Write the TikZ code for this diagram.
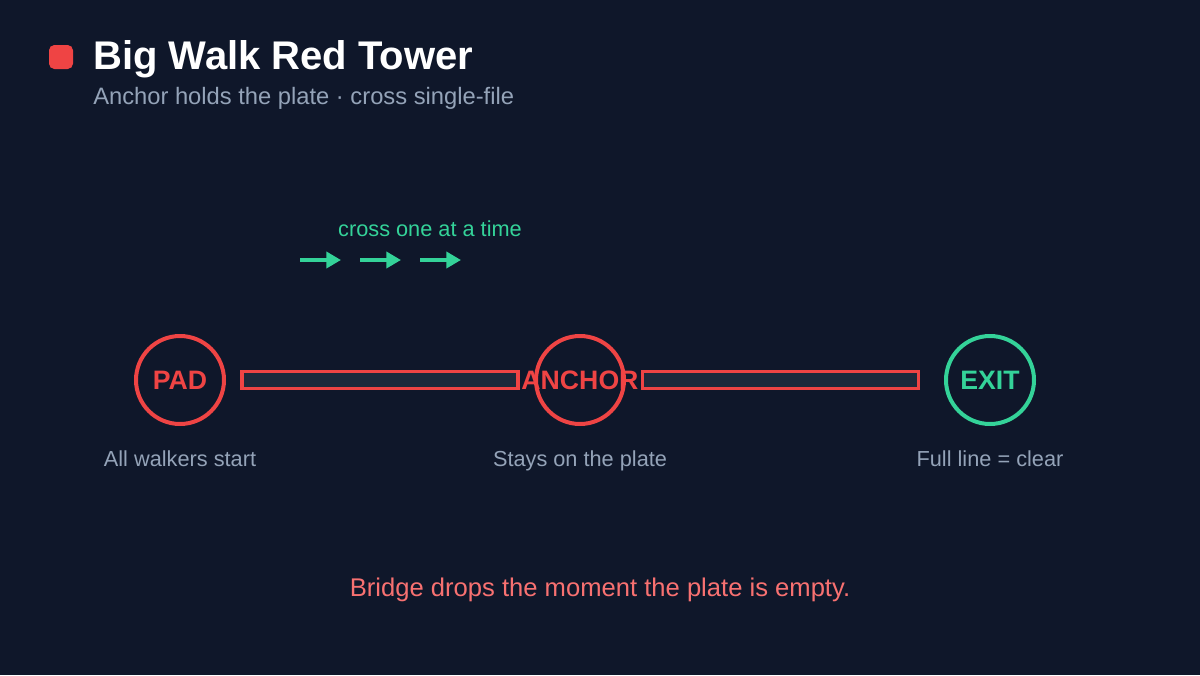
\documentclass[tikz,border=0pt]{standalone}
\usepackage{fontspec}
\setmainfont{Liberation Sans}
\usetikzlibrary{positioning,arrows.meta}
\definecolor{bg}{HTML}{0F172A}
\definecolor{redc}{HTML}{EF4444}
\definecolor{greenc}{HTML}{34D399}
\definecolor{greyc}{HTML}{94A3B8}
\definecolor{plank}{HTML}{1E293B}
\definecolor{warnc}{HTML}{F87171}
\tikzset{
  station/.style={circle,draw=#1,line width=3pt,minimum size=66pt,inner sep=0pt,
    label={[text=#1,font=\bfseries\fontsize{20}{22}\selectfont]center:\stationname}},
  bridge/.style={rectangle,draw=redc,fill=plank,line width=2.5pt,minimum width=207pt,minimum height=13pt,inner sep=0pt},
  caption/.style={anchor=base,text=greyc,font=\fontsize{16.3}{19}\selectfont},
  walker/.style={draw=greenc,line width=3pt,-{Triangle[length=11pt,width=12pt]}},
}
\begin{document}
\begin{tikzpicture}[x=0.75pt,y=0.75pt,yscale=-1,xscale=1]
\fill[bg] (0,0) rectangle (1200,675);
\useasboundingbox (0,0) rectangle (1200,675);

% title
\fill[redc,rounded corners=4pt] (49,45) rectangle (73,69);
\node[anchor=base west,inner xsep=0pt,text=white,font=\bfseries\fontsize{30}{33}\selectfont] (title) at (93,69) {Big Walk Red Tower};
\node[anchor=base west,inner xsep=0pt,text=greyc,font=\fontsize{17.8}{21}\selectfont] (subtitle) at (93,104) {Anchor holds the plate · cross single-file};

% bridges
\node[bridge] (plankA) at (380,380) {};
\node[bridge] (plankB) at (780.5,380) {};

% stations
\def\stationname{PAD}\node[station=redc] (pad) at (180,380) {};
\def\stationname{ANCHOR}\node[station=redc] (anchor) at (580,380) {};
\def\stationname{EXIT}\node[station=greenc] (exit) at (990,380) {};

% captions
\node[caption] (padcap) at (180,466) {All walkers start};
\node[caption] (anchorcap) at (580,466) {Stays on the plate};
\node[caption] (exitcap) at (990,466) {Full line = clear};

% single-file arrows
\node[text=greenc,font=\fontsize{16.3}{19}\selectfont] (crosstxt) at (430,229) {cross one at a time};
\foreach \i in {0,1,2}{
  \coordinate (s\i) at (300+60*\i,260);
  \coordinate (e\i) at (341+60*\i,260);
  \draw[walker] (s\i) -- (e\i);
}

\node[text=warnc,font=\fontsize{19.2}{22}\selectfont] (warning) at (600,590) {Bridge drops the moment the plate is empty.};
\end{tikzpicture}
\end{document}
